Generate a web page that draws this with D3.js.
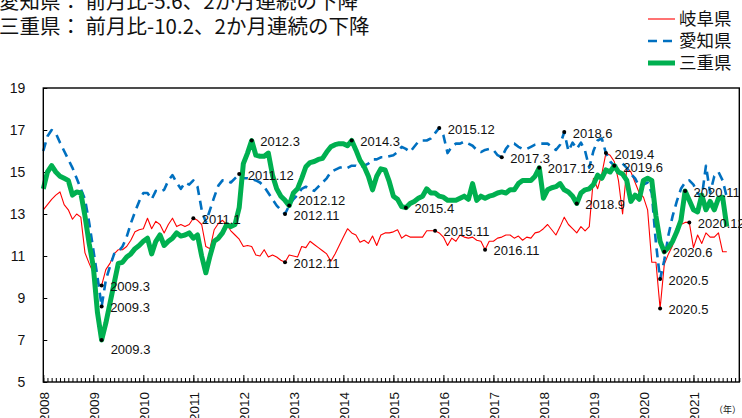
<!DOCTYPE html>
<html lang="ja">
<head>
<meta charset="utf-8">
<script src="https://cdn.jsdelivr.net/npm/d3@7"></script>
<style>
  html, body { margin: 0; padding: 0; background: #fff; }
  svg { display: block; }
</style>
</head>
<body>
<div id="chart"></div>
<script>
// Monthly series, January 2008 onward (index 0 = 2008.1)
const startYear = 2008;
const yearTicks = [2008, 2009, 2010, 2011, 2012, 2013, 2014, 2015, 2016, 2017, 2018, 2019, 2020, 2021];
const yTicks = [5, 7, 9, 11, 13, 15, 17, 19];

const seriesNames = ["岐阜県", "愛知県", "三重県"];

const gifu = [
  13.2, 13.45, 13.7, 13.9, 14.05, 13.45, 13.2, 12.75, 13.0, 12.85, 11.15, 10.65,
  10.2, 9.7, 9.6, 10.35, 10.65, 11.1, 11.3, 11.3, 11.45, 11.75, 12.15, 12.25,
  12.3, 12.8, 12.3, 12.65, 12.5, 12.1, 12.5, 12.8, 12.4, 12.5, 12.4, 12.5,
  12.8, 12.7, 12.5, 11.45, 11.35, 12.25, 12.55, 12.7, 12.5, 12.2, 12.0, 11.8,
  11.45, 11.5, 11.45, 11.05, 11.0, 11.3, 10.95, 11.05, 10.95, 10.8, 10.7, 11.05,
  11.0, 10.95, 11.45, 11.4, 11.7, 11.55, 11.4, 11.25, 11.1, 10.75, 11.1, 11.5,
  11.9, 12.3, 12.1, 12.0, 11.65, 11.75, 11.6, 11.95, 11.5, 12.0, 12.1, 12.1,
  12.15, 12.25, 11.85, 12.0, 11.9, 11.9, 11.9, 11.9, 12.2, 12.2, 12.2, 12.1,
  11.9, 11.5, 11.85, 11.7, 12.0, 11.9, 11.85, 11.9, 11.75, 11.7, 11.3, 11.7,
  11.7, 11.85, 11.9, 12.0, 12.0, 11.85, 11.95, 11.75, 11.9, 11.85, 12.1, 12.15,
  12.3, 12.5, 12.25, 12.0, 12.4, 12.85, 12.5, 12.3, 12.1, 12.4, 12.2, 12.4,
  14.7, 14.2, 14.9, 15.9, 15.8, 15.5, 14.6, 13.0, 15.2, 15.0, 14.5, 14.0,
  13.8, 13.2, 10.7, 10.7, 8.5, 10.6, 11.1, 11.5, 12.4, 12.5, 12.6, 12.6,
  11.4, 12.0, 11.6, 12.1, 11.9, 11.9, 12.1, 11.2, 11.2
];

const aichi = [
  16.0, 16.7, 17.0, 16.85, 16.4, 16.0, 15.6, 15.2, 14.7, 14.2, 13.7, 12.6,
  11.3, 10.0, 8.6, 9.85, 10.5, 11.1, 11.2, 11.45, 11.9, 12.55, 13.1, 13.6,
  14.0, 14.0, 13.7, 14.1, 14.05, 14.15, 14.6, 14.85, 14.5, 14.2, 14.5, 14.4,
  14.6, 14.3, 13.2, 12.6, 13.2, 13.8, 14.35, 14.6, 14.6, 14.5, 14.7, 14.9,
  14.7, 14.7, 14.65, 14.6, 14.5, 14.3, 14.0, 13.7, 13.4, 13.2, 13.0, 13.4,
  13.7, 13.9, 14.2, 14.3, 14.2, 14.1, 14.3, 14.5, 14.7, 15.0, 15.1, 15.2,
  15.25, 15.2, 15.3, 15.3, 15.2, 15.3, 15.4, 15.6, 15.6, 15.7, 15.7, 15.75,
  15.8, 15.95, 16.2, 16.1, 15.95, 16.2, 16.45, 16.5, 16.5, 16.6, 16.85, 17.1,
  16.75, 15.9, 16.2, 16.35, 16.35, 16.45, 16.35, 16.25, 16.05, 15.95, 16.05, 16.1,
  16.05, 15.8, 15.7, 16.1, 16.35, 16.35, 16.2, 16.1, 16.1, 16.2, 16.3, 16.35,
  16.35, 16.35, 16.2, 16.05, 16.3, 16.9, 16.0, 16.4, 16.1, 16.4, 16.0, 15.2,
  16.0, 16.5, 16.6, 15.9, 15.5, 15.3, 15.3, 15.4, 15.2, 14.9, 14.7, 14.3,
  14.4, 14.5, 14.0, 11.6, 9.9, 10.8, 12.0, 12.9, 13.6, 14.2, 14.5, 14.6,
  14.4, 14.0, 13.8, 15.3, 14.0, 14.8, 15.0, 14.6, 13.8
];

const mie = [
  14.2, 15.0, 15.3, 15.0, 14.8, 14.7, 14.6, 13.9, 14.05, 14.0, 12.9, 11.6,
  10.5, 8.3, 7.0, 7.8, 8.75, 9.7, 10.65, 10.7, 10.95, 11.1, 11.35, 11.5,
  11.7, 11.85, 11.1, 11.7, 12.0, 11.5, 11.7, 11.85, 12.1, 11.95, 12.0, 12.1,
  11.85, 12.0, 11.0, 10.2, 11.0, 11.7, 11.85, 12.1, 12.5, 12.4, 12.5, 13.3,
  15.4, 15.9, 16.5, 15.8, 15.75, 15.75, 15.9, 14.85, 14.2, 13.85, 13.65, 13.4,
  14.0, 14.2, 14.7, 15.25, 15.45, 15.5, 15.6, 15.65, 15.95, 16.2, 16.3, 16.35,
  16.35, 16.25, 16.5, 16.05, 15.55, 15.25, 14.8, 14.15, 14.8, 15.15, 15.1, 14.55,
  13.85, 13.7, 13.35, 13.3, 13.5, 13.6, 13.75, 13.85, 14.2, 14.0, 14.0, 13.85,
  13.8, 13.65, 13.65, 13.65, 13.75, 13.85, 13.7, 14.45, 13.65, 13.85, 13.75, 13.85,
  13.9, 14.0, 14.05, 14.0, 14.15, 14.15, 14.45, 14.6, 14.6, 14.6, 14.8, 15.2,
  13.75, 14.15, 14.25, 14.3, 14.45, 14.15, 14.05, 13.85, 13.5, 14.0, 14.15, 14.2,
  14.4, 14.85, 14.7, 15.1, 15.0, 15.3, 15.0, 14.9, 14.6, 13.6, 13.9, 13.7,
  14.6, 14.7, 14.6, 12.9, 11.7, 11.2, 11.4, 11.7, 12.15, 12.7, 14.1, 13.65,
  13.2, 13.1, 13.9, 13.2, 13.6, 13.2, 13.75, 13.8, 12.4
];

// Marked turning points: [series index, label "YYYY.M"]
const markSeries = [0, 1, 2, 0, 1, 2, 1, 2, 0, 2, 2, 0, 1, 0, 1, 2, 1, 2, 0, 2, 2, 1, 0, 2, 0];
const markLabels = [
  "2009.3", "2009.3", "2009.3", "2011.1", "2011.12", "2012.3", "2012.11", "2012.12", "2012.11",
  "2014.3", "2015.4", "2015.11", "2015.12", "2016.11", "2017.3", "2017.12", "2018.6", "2018.9",
  "2019.4", "2019.6", "2020.6", "2020.5", "2020.5", "2020.11", "2020.12"
];

const titleLines = [
  "愛知県： 前月比-5.6、2か月連続の下降",
  "三重県： 前月比-10.2、2か月連続の下降"
];

// ---- layout & style ----
const W = 742, H = 418;
const plot = { left: 43.3, right: 739.3, top: 88, bottom: 382 };
const colors = ["#ff0000", "#0070c0", "#00b050"];
const widths = [1.1, 2.6, 5];
const dashes = [null, "9,6", null];
const labelFont = "'Liberation Sans', Arial, sans-serif";
const cjkFont = "'Noto Sans CJK JP', 'Noto Sans', sans-serif";

const data = [gifu, aichi, mie];
const lastIndex = 167;

const x = d3.scaleLinear().domain([0, lastIndex]).range([plot.left, plot.right]);
const y = d3.scaleLinear().domain([5, 19]).range([plot.bottom, plot.top]);

const svg = d3.select("#chart").append("svg")
  .attr("width", W).attr("height", H)
  .style("font-family", labelFont);

// title
svg.append("g").selectAll("text").data(titleLines).join("text")
  .attr("x", -1)
  .attr("y", (d, i) => 8.5 + i * 25)
  .attr("font-family", cjkFont)
  .attr("font-size", 20.5)
  .attr("fill", "#111")
  .text(d => d);

// legend
const legend = svg.append("g");
seriesNames.forEach((name, i) => {
  const ly = 19 + i * 22;
  legend.append("line")
    .attr("x1", 648).attr("x2", 675).attr("y1", ly).attr("y2", ly)
    .attr("stroke", colors[i]).attr("stroke-width", widths[i])
    .attr("stroke-dasharray", dashes[i]);
  legend.append("text")
    .attr("x", 679).attr("y", ly + 6.3)
    .attr("font-family", cjkFont).attr("font-size", 17.5)
    .attr("fill", "#111").text(name);
});

// axes
const yAxis = d3.axisLeft(y).tickValues(yTicks).tickSize(-4).tickPadding(18);
svg.append("g").attr("transform", `translate(${plot.left},0)`).call(yAxis)
  .call(g => g.select(".domain").remove())
  .call(g => g.selectAll("line").attr("stroke", "#000"))
  .call(g => g.selectAll("text").attr("font-size", 14).attr("fill", "#111").attr("font-family", labelFont));

const monthAxis = d3.axisBottom(x).tickValues(d3.range(0, lastIndex + 1)).tickSize(-4).tickFormat("");
svg.append("g").attr("transform", `translate(0,${plot.bottom})`).call(monthAxis)
  .call(g => g.select(".domain").remove())
  .call(g => g.selectAll("line").attr("stroke", "#000"));

const yearAxis = d3.axisBottom(x)
  .tickValues(yearTicks.map(yr => (yr - startYear) * 12))
  .tickSize(-7).tickFormat((d, i) => yearTicks[i]);
svg.append("g").attr("transform", `translate(0,${plot.bottom})`).call(yearAxis)
  .call(g => g.select(".domain").remove())
  .call(g => g.selectAll("line").attr("stroke", "#000"))
  .call(g => g.selectAll("text")
    .attr("font-size", 13.5).attr("fill", "#111").attr("font-family", labelFont)
    .attr("text-anchor", "end")
    .attr("dy", "0.35em")
    .attr("transform", "translate(0,10) rotate(-90)")
    .attr("x", 0).attr("y", 0));

svg.append("text")
  .attr("x", 741).attr("y", 413)
  .attr("text-anchor", "end")
  .attr("font-family", cjkFont).attr("font-size", 9)
  .attr("fill", "#111").text("（年）");

// series lines
const line = d3.line().x((d, i) => x(i)).y(d => y(d));
const linesG = svg.append("g");
[0, 1, 2].forEach(i => {
  linesG.append("path")
    .datum(data[i])
    .attr("fill", "none")
    .attr("stroke", colors[i])
    .attr("stroke-width", widths[i])
    .attr("stroke-dasharray", dashes[i])
    .attr("stroke-linejoin", "round")
    .attr("d", line);
});

// plot frame
svg.append("rect")
  .attr("x", plot.left).attr("y", plot.top)
  .attr("width", plot.right - plot.left).attr("height", plot.bottom - plot.top)
  .attr("fill", "none").attr("stroke", "#000").attr("stroke-width", 1.4);

// turning-point markers
const labelShift = { "2-2009.3": [9, 9], "2-2012.12": [9, -5], "2-2019.6": [9, 1.5] };
const marks = markLabels.map((lab, k) => {
  const s = markSeries[k];
  const [yr, mo] = lab.split(".").map(Number);
  const idx = (yr - startYear) * 12 + (mo - 1);
  return { s, lab, idx, v: data[s][idx] };
});
const mg = svg.append("g");
mg.selectAll("circle").data(marks).join("circle")
  .attr("cx", d => x(d.idx)).attr("cy", d => y(d.v)).attr("r", 2)
  .attr("fill", "#000");
mg.selectAll("text").data(marks).join("text")
  .attr("x", d => x(d.idx) + ((labelShift[d.s + "-" + d.lab] || [8.5, 1])[0]))
  .attr("y", d => y(d.v) + ((labelShift[d.s + "-" + d.lab] || [8.5, 1])[1]))
  .attr("dy", "0.36em")
  .attr("font-size", 13)
  .attr("fill", "#111")
  .text(d => d.lab);
</script>
</body>
</html>
